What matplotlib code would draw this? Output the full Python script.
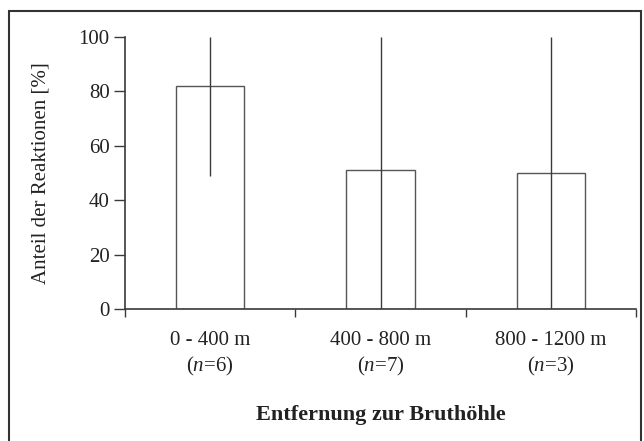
import matplotlib.pyplot as plt
from matplotlib.patches import Rectangle

# Daten
kategorien = ['0 - 400 m', '400 - 800 m', '800 - 1200 m']
n_werte = [6, 7, 3]
anteil = [82, 51, 50]
fehler_unten = [33, 51, 50]
fehler_oben = [18, 49, 50]

plt.rcParams['font.family'] = 'Liberation Serif'
plt.rcParams['mathtext.fontset'] = 'custom'
plt.rcParams['mathtext.it'] = 'Liberation Serif:italic'
plt.rcParams['mathtext.rm'] = 'Liberation Serif'

fig = plt.figure(figsize=(6.44, 4.41), dpi=100)
ax = fig.add_axes([125/644, 1 - 309/441, 511/644, 272/441])

farbe = '#3a3a3a'
x = list(range(len(kategorien)))
ax.bar(x, anteil, width=0.4, color='white', edgecolor='#555555', linewidth=1.0)
ax.errorbar(x, anteil, yerr=[fehler_unten, fehler_oben], fmt='none',
            ecolor=farbe, elinewidth=1.0, capsize=0)

ax.set_xlim(-0.5, 2.5)
ax.set_ylim(0, 100)
ax.set_yticks([0, 20, 40, 60, 80, 100])

# Teilstriche an den Kategoriegrenzen, Beschriftung in der Mitte
ax.set_xticks([-0.5, 0.5, 1.5, 2.5])
ax.set_xticklabels([])
ax.set_xticks(x, minor=True)
ax.set_xticklabels([f'{k}\n($\\it{{n}}$={n})' for k, n in zip(kategorien, n_werte)],
                   minor=True, fontsize=15, color='#222222', linespacing=1.3)
ax.tick_params(axis='x', which='minor', length=0, pad=16)
ax.tick_params(axis='x', which='major', length=6, width=1.0, color=farbe)
ax.tick_params(axis='y', length=8, width=1.0, color=farbe, labelsize=15,
               labelcolor='#222222', pad=3)

for s in ['top', 'right']:
    ax.spines[s].set_visible(False)
for s in ['left', 'bottom']:
    ax.spines[s].set_color(farbe)
    ax.spines[s].set_linewidth(1.2)

ax.set_ylabel('Anteil der Reaktionen [%]', fontsize=15, color='#222222', labelpad=20)
ax.set_xlabel('Entfernung zur Bruthöhle', fontsize=16, fontweight='bold',
              color='#222222', labelpad=19)

# Rahmen um die Abbildung
fig.patches.append(Rectangle((9/644, -0.05), 632/644, 1.05 - 11/441,
                             transform=fig.transFigure, fill=False,
                             edgecolor='#333333', linewidth=1.5))

fig.savefig('out.png', dpi=100)
